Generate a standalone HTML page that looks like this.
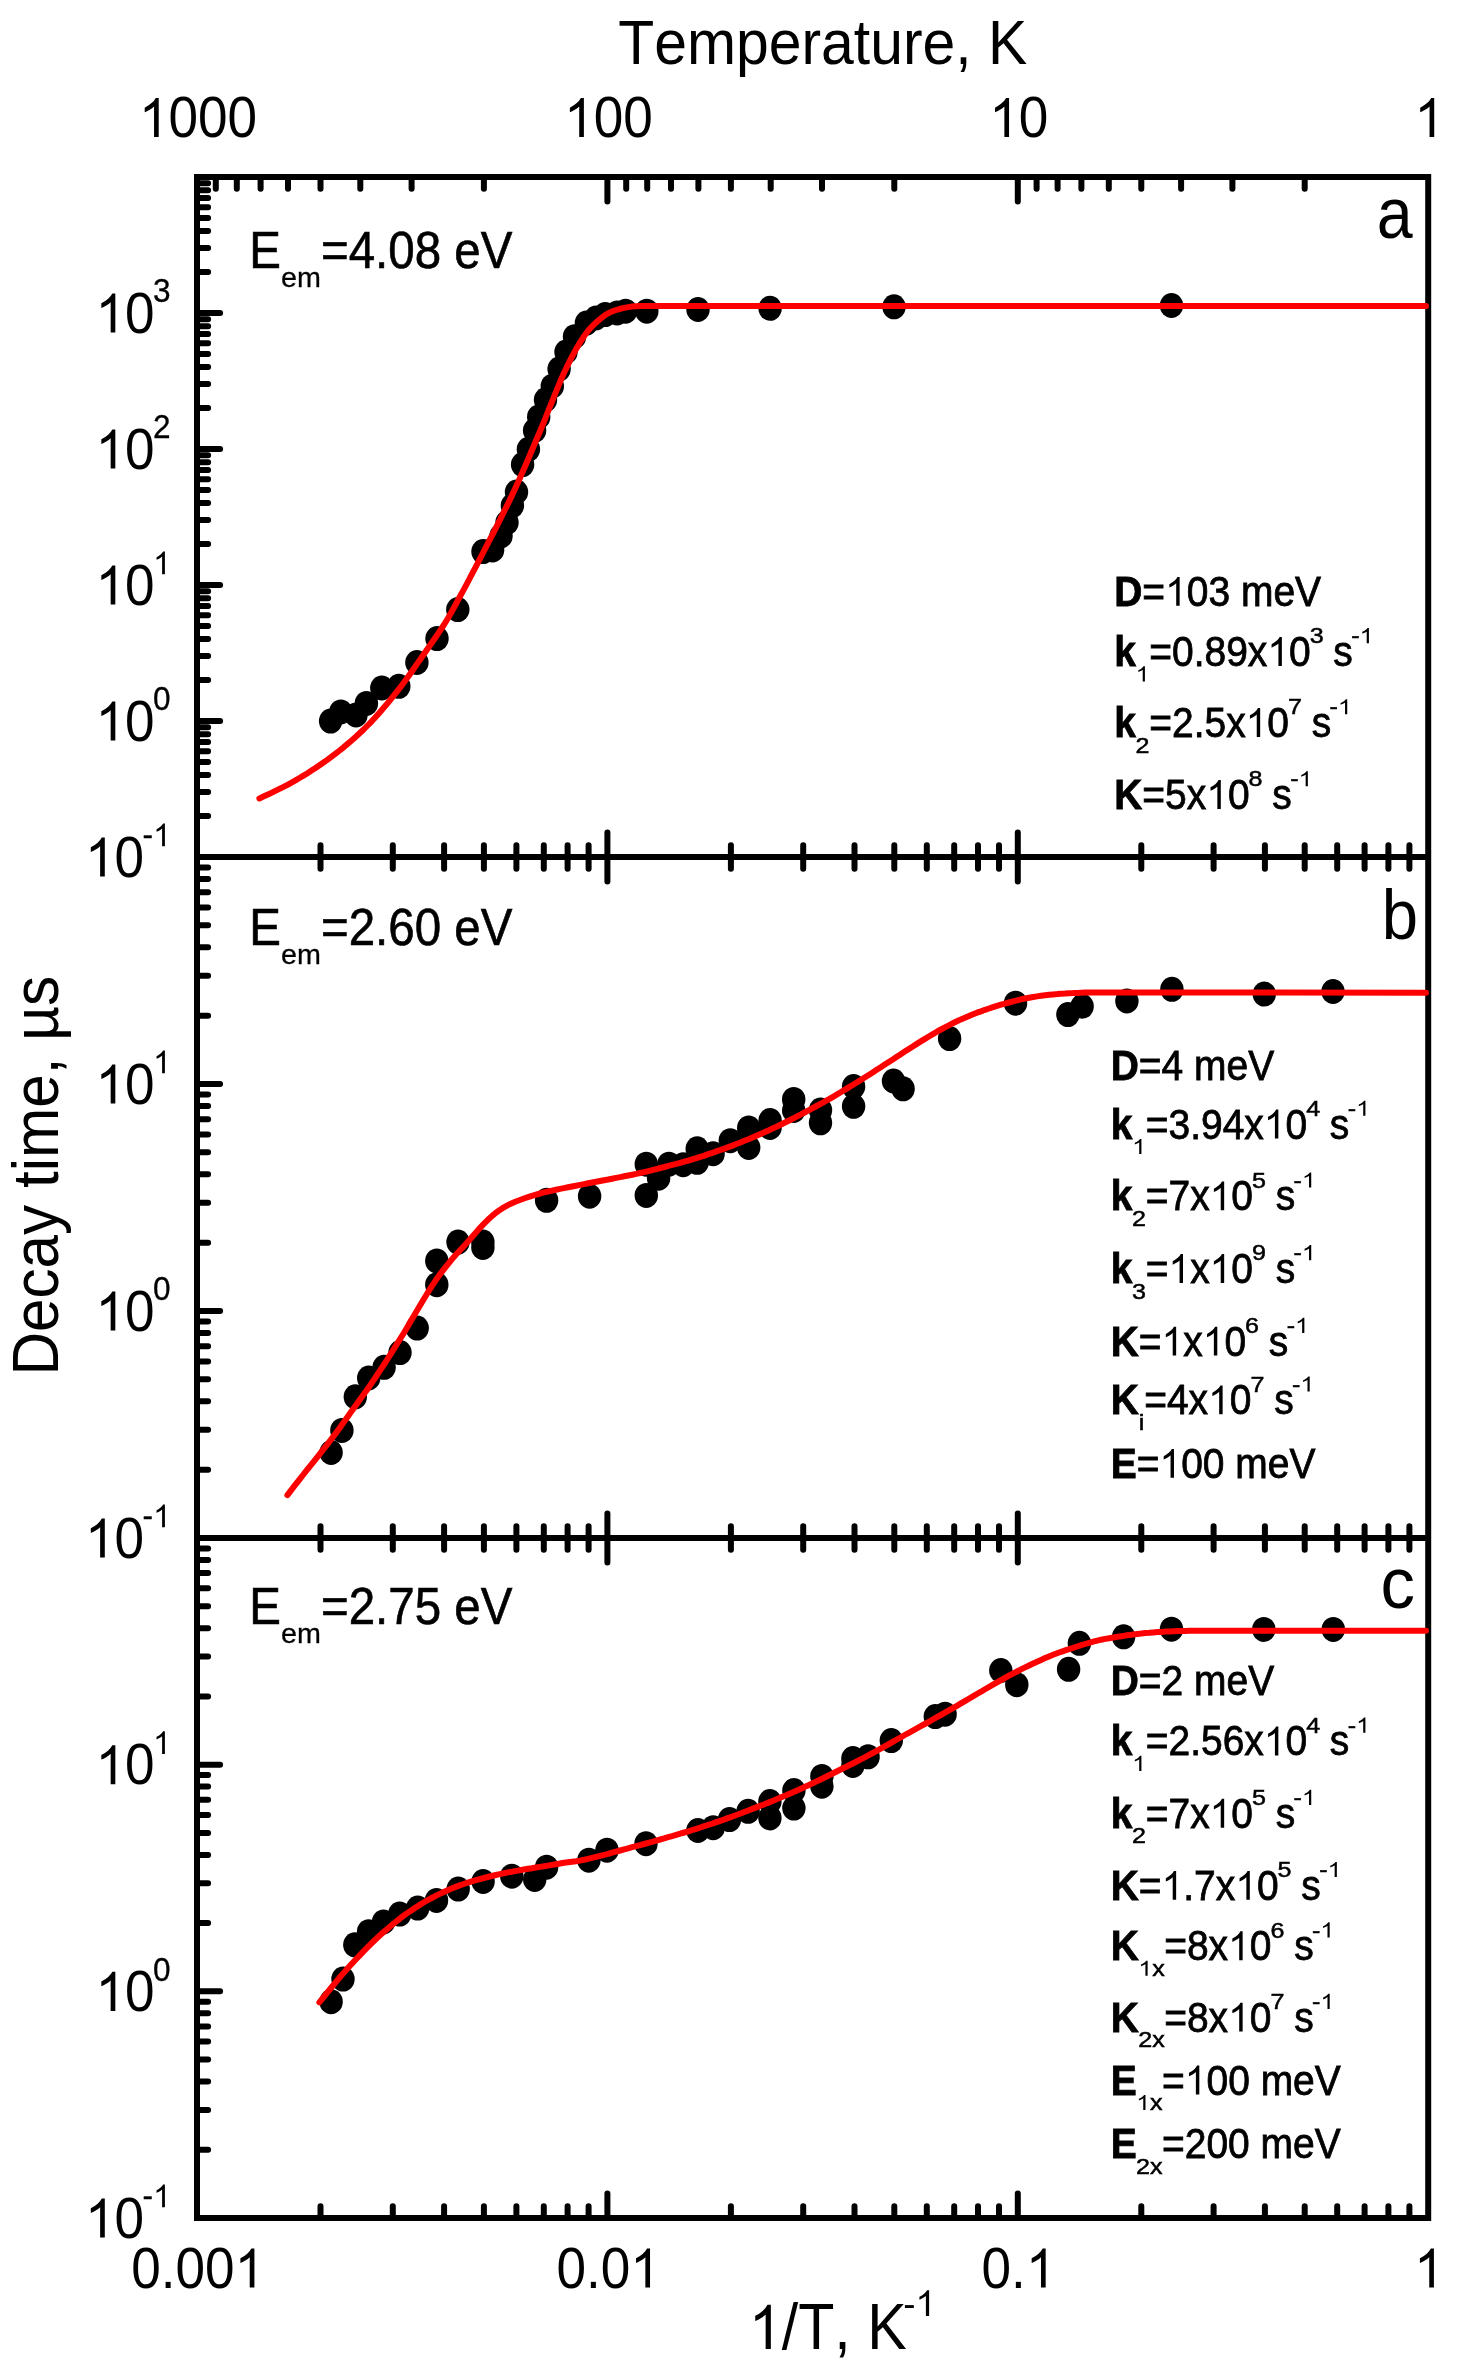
<!DOCTYPE html>
<html lang="en"><head><meta charset="utf-8"><title>Decay time vs temperature</title>
<style>html,body{margin:0;padding:0;background:#fff}svg{display:block}text{font-family:'Liberation Sans', sans-serif;fill:#000;font-kerning:none;font-variant-ligatures:none;white-space:pre}</style></head>
<body>
<svg width="1466" height="2375" viewBox="0 0 1466 2375" style="will-change:transform">
<defs><path id="one" d="M763 0H583V1147Q518 1085 412.5 1023T223 930V1104Q374 1175 487 1276T647 1472H763Z"/></defs>
<rect width="1466" height="2375" fill="#fff"/>
<g fill="#000"><ellipse cx="330.6" cy="721.1" rx="11.7" ry="12.5"/><ellipse cx="340.8" cy="711.9" rx="11.7" ry="12.5"/><ellipse cx="356" cy="715" rx="11.7" ry="12.5"/><ellipse cx="366.4" cy="703.4" rx="11.7" ry="12.5"/><ellipse cx="381.8" cy="688" rx="11.7" ry="12.5"/><ellipse cx="398.8" cy="686.3" rx="11.7" ry="12.5"/><ellipse cx="416.9" cy="662.5" rx="11.7" ry="12.5"/><ellipse cx="437" cy="638.6" rx="11.7" ry="12.5"/><ellipse cx="457.8" cy="609.6" rx="11.7" ry="12.5"/><ellipse cx="483" cy="551.6" rx="11.7" ry="12.5"/><ellipse cx="492.6" cy="550" rx="11.7" ry="12.5"/><ellipse cx="501" cy="536" rx="11.7" ry="12.5"/><ellipse cx="507" cy="522.6" rx="11.7" ry="12.5"/><ellipse cx="512.4" cy="505.6" rx="11.7" ry="12.5"/><ellipse cx="516.5" cy="492" rx="11.7" ry="12.5"/><ellipse cx="522.6" cy="464.6" rx="11.7" ry="12.5"/><ellipse cx="528.4" cy="449.3" rx="11.7" ry="12.5"/><ellipse cx="534.6" cy="430.5" rx="11.7" ry="12.5"/><ellipse cx="538.7" cy="416.9" rx="11.7" ry="12.5"/><ellipse cx="545.5" cy="399.8" rx="11.7" ry="12.5"/><ellipse cx="552.3" cy="386.2" rx="11.7" ry="12.5"/><ellipse cx="559.1" cy="369.1" rx="11.7" ry="12.5"/><ellipse cx="566" cy="352" rx="11.7" ry="12.5"/><ellipse cx="574.5" cy="336.7" rx="11.7" ry="12.5"/><ellipse cx="586.4" cy="323.1" rx="11.7" ry="12.5"/><ellipse cx="596" cy="318" rx="11.7" ry="12.5"/><ellipse cx="605.2" cy="314.6" rx="11.7" ry="12.5"/><ellipse cx="617.1" cy="312.9" rx="11.7" ry="12.5"/><ellipse cx="625.6" cy="311.2" rx="11.7" ry="12.5"/><ellipse cx="646.8" cy="311.2" rx="11.7" ry="12.5"/><ellipse cx="698" cy="309.5" rx="11.7" ry="12.5"/><ellipse cx="770.1" cy="308.3" rx="11.7" ry="12.5"/><ellipse cx="894" cy="306.8" rx="11.7" ry="12.5"/><ellipse cx="1171.5" cy="305.5" rx="11.7" ry="12.5"/></g>
<g fill="#000"><ellipse cx="331.1" cy="1452.5" rx="11.7" ry="12.5"/><ellipse cx="341.9" cy="1430.4" rx="11.7" ry="12.5"/><ellipse cx="355.3" cy="1396.8" rx="11.7" ry="12.5"/><ellipse cx="368.7" cy="1378" rx="11.7" ry="12.5"/><ellipse cx="384.1" cy="1367.3" rx="11.7" ry="12.5"/><ellipse cx="400" cy="1352.6" rx="11.7" ry="12.5"/><ellipse cx="417.2" cy="1328.1" rx="11.7" ry="12.5"/><ellipse cx="436.8" cy="1284.7" rx="11.7" ry="12.5"/><ellipse cx="436.8" cy="1260.9" rx="11.7" ry="12.5"/><ellipse cx="458" cy="1242.1" rx="11.7" ry="12.5"/><ellipse cx="482.9" cy="1242.1" rx="11.7" ry="12.5"/><ellipse cx="482.9" cy="1247.5" rx="11.7" ry="12.5"/><ellipse cx="546.6" cy="1200.3" rx="11.7" ry="12.5"/><ellipse cx="589.6" cy="1196.2" rx="11.7" ry="12.5"/><ellipse cx="646.3" cy="1195.4" rx="11.7" ry="12.5"/><ellipse cx="646.3" cy="1164.2" rx="11.7" ry="12.5"/><ellipse cx="658.6" cy="1178.2" rx="11.7" ry="12.5"/><ellipse cx="668.9" cy="1164.2" rx="11.7" ry="12.5"/><ellipse cx="683.2" cy="1164.7" rx="11.7" ry="12.5"/><ellipse cx="697.2" cy="1148.8" rx="11.7" ry="12.5"/><ellipse cx="697.2" cy="1162.3" rx="11.7" ry="12.5"/><ellipse cx="713.1" cy="1153.7" rx="11.7" ry="12.5"/><ellipse cx="730.3" cy="1140.7" rx="11.7" ry="12.5"/><ellipse cx="748.7" cy="1127.9" rx="11.7" ry="12.5"/><ellipse cx="748.7" cy="1147.5" rx="11.7" ry="12.5"/><ellipse cx="770.1" cy="1120.5" rx="11.7" ry="12.5"/><ellipse cx="770.1" cy="1127.4" rx="11.7" ry="12.5"/><ellipse cx="793.7" cy="1099.4" rx="11.7" ry="12.5"/><ellipse cx="793.7" cy="1110.5" rx="11.7" ry="12.5"/><ellipse cx="820.5" cy="1110" rx="11.7" ry="12.5"/><ellipse cx="820.5" cy="1122.8" rx="11.7" ry="12.5"/><ellipse cx="853.6" cy="1086.6" rx="11.7" ry="12.5"/><ellipse cx="853.6" cy="1106.3" rx="11.7" ry="12.5"/><ellipse cx="893.5" cy="1081" rx="11.7" ry="12.5"/><ellipse cx="903.1" cy="1088.8" rx="11.7" ry="12.5"/><ellipse cx="949.6" cy="1038.6" rx="11.7" ry="12.5"/><ellipse cx="1015.5" cy="1003.2" rx="11.7" ry="12.5"/><ellipse cx="1067.9" cy="1014.6" rx="11.7" ry="12.5"/><ellipse cx="1082.1" cy="1006.3" rx="11.7" ry="12.5"/><ellipse cx="1126.9" cy="1001" rx="11.7" ry="12.5"/><ellipse cx="1171.9" cy="989.3" rx="11.7" ry="12.5"/><ellipse cx="1264.3" cy="994.1" rx="11.7" ry="12.5"/><ellipse cx="1333" cy="991.5" rx="11.7" ry="12.5"/></g>
<g fill="#000"><ellipse cx="331.1" cy="2001.7" rx="11.7" ry="12.5"/><ellipse cx="343" cy="1979.1" rx="11.7" ry="12.5"/><ellipse cx="354.8" cy="1944.8" rx="11.7" ry="12.5"/><ellipse cx="368.6" cy="1931.7" rx="11.7" ry="12.5"/><ellipse cx="383.5" cy="1921.9" rx="11.7" ry="12.5"/><ellipse cx="399.7" cy="1914.1" rx="11.7" ry="12.5"/><ellipse cx="417.7" cy="1908.1" rx="11.7" ry="12.5"/><ellipse cx="436.5" cy="1900.4" rx="11.7" ry="12.5"/><ellipse cx="458.2" cy="1889.1" rx="11.7" ry="12.5"/><ellipse cx="483.1" cy="1881.5" rx="11.7" ry="12.5"/><ellipse cx="511.8" cy="1876.2" rx="11.7" ry="12.5"/><ellipse cx="534.7" cy="1879.5" rx="11.7" ry="12.5"/><ellipse cx="546.6" cy="1867.2" rx="11.7" ry="12.5"/><ellipse cx="588.9" cy="1860.2" rx="11.7" ry="12.5"/><ellipse cx="607" cy="1850.2" rx="11.7" ry="12.5"/><ellipse cx="646" cy="1843.7" rx="11.7" ry="12.5"/><ellipse cx="697.9" cy="1830.5" rx="11.7" ry="12.5"/><ellipse cx="713.2" cy="1827.7" rx="11.7" ry="12.5"/><ellipse cx="729.5" cy="1819.6" rx="11.7" ry="12.5"/><ellipse cx="748.1" cy="1811.3" rx="11.7" ry="12.5"/><ellipse cx="769.9" cy="1801.5" rx="11.7" ry="12.5"/><ellipse cx="769.9" cy="1817.9" rx="11.7" ry="12.5"/><ellipse cx="793.9" cy="1790.6" rx="11.7" ry="12.5"/><ellipse cx="793.9" cy="1808.1" rx="11.7" ry="12.5"/><ellipse cx="821.9" cy="1776.4" rx="11.7" ry="12.5"/><ellipse cx="821.9" cy="1786.2" rx="11.7" ry="12.5"/><ellipse cx="852.9" cy="1758.5" rx="11.7" ry="12.5"/><ellipse cx="852.9" cy="1765.5" rx="11.7" ry="12.5"/><ellipse cx="868.1" cy="1756.8" rx="11.7" ry="12.5"/><ellipse cx="891.3" cy="1740.6" rx="11.7" ry="12.5"/><ellipse cx="935.3" cy="1716.6" rx="11.7" ry="12.5"/><ellipse cx="945.1" cy="1714.2" rx="11.7" ry="12.5"/><ellipse cx="1000.8" cy="1670.5" rx="11.7" ry="12.5"/><ellipse cx="1016.8" cy="1684.7" rx="11.7" ry="12.5"/><ellipse cx="1068.6" cy="1669.3" rx="11.7" ry="12.5"/><ellipse cx="1079.4" cy="1643.3" rx="11.7" ry="12.5"/><ellipse cx="1123.6" cy="1636.8" rx="11.7" ry="12.5"/><ellipse cx="1171.5" cy="1629.2" rx="11.7" ry="12.5"/><ellipse cx="1263.8" cy="1629.4" rx="11.7" ry="12.5"/><ellipse cx="1333.3" cy="1629.4" rx="11.7" ry="12.5"/></g>
<g fill="none" stroke="#000" stroke-width="6">
<rect x="197" y="177" width="1231.2" height="2041"/>
<path d="M197 857H1428.2M197 1538H1428.2"/>
</g>
<path fill="none" stroke="#000" stroke-width="6" stroke-linecap="round" d="M1304.7 177V188.8M320.5 845.2V868.8M320.5 1526.2V1549.8M320.5 2218V2206.2M1232.4 177V188.8M392.8 845.2V868.8M392.8 1526.2V1549.8M392.8 2218V2206.2M1181.1 177V188.8M444.1 845.2V868.8M444.1 1526.2V1549.8M444.1 2218V2206.2M1141.3 177V188.8M483.9 845.2V868.8M483.9 1526.2V1549.8M483.9 2218V2206.2M1108.8 177V188.8M516.4 845.2V868.8M516.4 1526.2V1549.8M516.4 2218V2206.2M1081.4 177V188.8M543.8 845.2V868.8M543.8 1526.2V1549.8M543.8 2218V2206.2M1057.6 177V188.8M567.6 845.2V868.8M567.6 1526.2V1549.8M567.6 2218V2206.2M1036.6 177V188.8M588.6 845.2V868.8M588.6 1526.2V1549.8M588.6 2218V2206.2M1017.8 177V201.4M607.4 832.6V881.4M607.4 1513.6V1562.4M607.4 2218V2193.6M894.3 177V188.8M730.9 845.2V868.8M730.9 1526.2V1549.8M730.9 2218V2206.2M822 177V188.8M803.2 845.2V868.8M803.2 1526.2V1549.8M803.2 2218V2206.2M770.7 177V188.8M854.5 845.2V868.8M854.5 1526.2V1549.8M854.5 2218V2206.2M730.9 177V188.8M894.3 845.2V868.8M894.3 1526.2V1549.8M894.3 2218V2206.2M698.4 177V188.8M926.8 845.2V868.8M926.8 1526.2V1549.8M926.8 2218V2206.2M671 177V188.8M954.2 845.2V868.8M954.2 1526.2V1549.8M954.2 2218V2206.2M647.2 177V188.8M978 845.2V868.8M978 1526.2V1549.8M978 2218V2206.2M626.2 177V188.8M999 845.2V868.8M999 1526.2V1549.8M999 2218V2206.2M607.4 177V201.4M1017.8 832.6V881.4M1017.8 1513.6V1562.4M1017.8 2218V2193.6M483.9 177V188.8M1141.3 845.2V868.8M1141.3 1526.2V1549.8M1141.3 2218V2206.2M411.6 177V188.8M1213.6 845.2V868.8M1213.6 1526.2V1549.8M1213.6 2218V2206.2M360.3 177V188.8M1264.9 845.2V868.8M1264.9 1526.2V1549.8M1264.9 2218V2206.2M320.5 177V188.8M1304.7 845.2V868.8M1304.7 1526.2V1549.8M1304.7 2218V2206.2M288 177V188.8M1337.2 845.2V868.8M1337.2 1526.2V1549.8M1337.2 2218V2206.2M260.6 177V188.8M1364.6 845.2V868.8M1364.6 1526.2V1549.8M1364.6 2218V2206.2M236.8 177V188.8M1388.4 845.2V868.8M1388.4 1526.2V1549.8M1388.4 2218V2206.2M215.8 177V188.8M1409.4 845.2V868.8M1409.4 1526.2V1549.8M1409.4 2218V2206.2M197 313H220.1M197 272.1H208.1M197 248.1H208.1M197 231.1H208.1M197 217.9H208.1M197 207.2H208.1M197 198.1H208.1M197 190.2H208.1M197 183.2H208.1M197 449H220.1M197 408.1H208.1M197 384.1H208.1M197 367.1H208.1M197 353.9H208.1M197 343.2H208.1M197 334.1H208.1M197 326.2H208.1M197 319.2H208.1M197 585H220.1M197 544.1H208.1M197 520.1H208.1M197 503.1H208.1M197 489.9H208.1M197 479.2H208.1M197 470.1H208.1M197 462.2H208.1M197 455.2H208.1M197 721H220.1M197 680.1H208.1M197 656.1H208.1M197 639.1H208.1M197 625.9H208.1M197 615.2H208.1M197 606.1H208.1M197 598.2H208.1M197 591.2H208.1M197 816.1H208.1M197 792.1H208.1M197 775.1H208.1M197 761.9H208.1M197 751.2H208.1M197 742.1H208.1M197 734.2H208.1M197 727.2H208.1M197 1084H220.1M197 1015.7H208.1M197 975.7H208.1M197 947.3H208.1M197 925.3H208.1M197 907.4H208.1M197 892.2H208.1M197 879H208.1M197 867.4H208.1M197 1311H220.1M197 1242.7H208.1M197 1202.7H208.1M197 1174.3H208.1M197 1152.3H208.1M197 1134.4H208.1M197 1119.2H208.1M197 1106H208.1M197 1094.4H208.1M197 1469.7H208.1M197 1429.7H208.1M197 1401.3H208.1M197 1379.3H208.1M197 1361.4H208.1M197 1346.2H208.1M197 1333H208.1M197 1321.4H208.1M197 1764.7H220.1M197 1696.4H208.1M197 1656.5H208.1M197 1628.2H208.1M197 1606.2H208.1M197 1588.3H208.1M197 1573.1H208.1M197 1560H208.1M197 1548.4H208.1M197 1991.3H220.1M197 1923.1H208.1M197 1883.2H208.1M197 1854.9H208.1M197 1832.9H208.1M197 1815H208.1M197 1799.8H208.1M197 1786.6H208.1M197 1775H208.1M197 2149.8H208.1M197 2109.9H208.1M197 2081.5H208.1M197 2059.6H208.1M197 2041.6H208.1M197 2026.4H208.1M197 2013.3H208.1M197 2001.7H208.1"/>
<g fill="none" stroke="#f00" stroke-width="6" stroke-linejoin="round" stroke-linecap="round">
<path d="M259.4 798.4L263.4 796.6L267.4 794.8L271.4 792.9L275.4 790.9L279.4 788.9L283.5 786.9L287.5 784.8L291.5 782.6L295.5 780.3L299.5 778L303.5 775.6L307.5 773.2L311.5 770.6L315.5 768L319.5 765.2L323.5 762.5L327.6 759.6L331.6 756.6L335.6 753.6L339.6 750.5L343.6 747.3L347.6 743.9L351.6 740.5L355.6 737L359.6 733.3L363.6 729.5L367.6 725.5L371.7 721.3L375.7 716.9L379.7 712.4L383.7 707.8L387.7 703.1L391.7 698.2L395.7 693.2L399.7 688.1L403.7 682.8L407.7 677.3L411.7 671.7L415.7 665.9L419.8 660.1L423.8 654.2L427.8 648.5L431.8 642.8L435.8 637L439.8 631.1L443.8 625L447.8 618.5L451.8 611.5L455.8 604.2L459.8 596.8L463.9 589.4L467.9 581.9L471.9 574.2L475.9 566.6L479.9 558.9L483.9 551.2L487.9 543.4L491.9 535.6L495.9 527.8L499.9 519.8L503.9 511.8L508 503.7L512 495.4L516 486.7L520 477.9L524 468.8L528 459.5L532 450L536 440.6L540 431.3L544 421.7L548 411.5L552.1 401.4L556.1 391.5L560.1 381.8L564.1 372.7L568.1 364.3L572.1 356.4L576.1 349.1L580.1 342.4L584.1 336.1L588.1 330.8L592.1 326.3L596.2 322.4L600.2 319L604.2 315.8L608.2 313.3L612.2 311.4L616.2 310L620.2 308.8L624.2 307.9L628.2 307.1L632.2 306.5L636.2 306.3L640.2 306.1L644.3 305.9L648.3 305.9L1426 305.9"/>
<path d="M287.4 1495.1L291.4 1489.9L295.4 1484.7L299.4 1479.6L303.4 1474.5L307.4 1469.4L311.5 1464.4L315.5 1459.4L319.5 1454.3L323.5 1449.2L327.5 1444.1L331.5 1438.9L335.5 1433.6L339.5 1428.2L343.5 1422.6L347.5 1417L351.5 1411.3L355.6 1405.7L359.6 1400.1L363.6 1394.5L367.6 1388.9L371.6 1383.1L375.6 1377.2L379.6 1371.2L383.6 1365.1L387.6 1358.9L391.6 1352.6L395.6 1346.2L399.7 1339.7L403.7 1333.2L407.7 1326.4L411.7 1319.5L415.7 1312.7L419.7 1306L423.7 1299.3L427.7 1292.7L431.7 1286.3L435.7 1280.3L439.7 1274.7L443.8 1269.4L447.8 1264.3L451.8 1259.4L455.8 1254.8L459.8 1250.5L463.8 1246.2L467.8 1241.8L471.8 1237.3L475.8 1232.6L479.8 1228.1L483.8 1223.9L487.9 1219.8L491.9 1216.1L495.9 1212.8L499.9 1209.9L503.9 1207.3L507.9 1205.1L511.9 1203.2L515.9 1201.5L519.9 1200L523.9 1198.5L527.9 1197.2L532 1195.9L536 1194.6L540 1193.5L544 1192.4L548 1191.5L552 1190.6L556 1189.7L560 1188.9L564 1188.1L568 1187.3L572 1186.5L576.1 1185.7L580.1 1184.9L584.1 1184.1L588.1 1183.3L592.1 1182.5L596.1 1181.8L600.1 1181L604.1 1180.2L608.1 1179.5L612.1 1178.7L616.2 1177.9L620.2 1177.1L624.2 1176.3L628.2 1175.5L632.2 1174.7L636.2 1173.9L640.2 1173L644.2 1172.1L648.2 1171.1L652.2 1170.1L656.2 1169.1L660.3 1168L664.3 1167L668.3 1165.9L672.3 1164.9L676.3 1163.9L680.3 1162.8L684.3 1161.7L688.3 1160.6L692.3 1159.4L696.3 1158.2L700.3 1156.9L704.4 1155.6L708.4 1154.2L712.4 1152.8L716.4 1151.4L720.4 1150L724.4 1148.6L728.4 1147.1L732.4 1145.6L736.4 1144L740.4 1142.5L744.4 1140.8L748.5 1139.2L752.5 1137.5L756.5 1135.7L760.5 1134L764.5 1132.2L768.5 1130.4L772.5 1128.5L776.5 1126.7L780.5 1124.7L784.5 1122.8L788.5 1120.8L792.6 1118.8L796.6 1116.7L800.6 1114.6L804.6 1112.5L808.6 1110.3L812.6 1108.1L816.6 1106L820.6 1103.8L824.6 1101.6L828.6 1099.4L832.6 1097.1L836.7 1094.7L840.7 1092.3L844.7 1089.9L848.7 1087.4L852.7 1085L856.7 1082.5L860.7 1080L864.7 1077.5L868.7 1075L872.7 1072.4L876.7 1069.8L880.8 1067.2L884.8 1064.6L888.8 1062L892.8 1059.4L896.8 1056.8L900.8 1054.2L904.8 1051.6L908.8 1049L912.8 1046.4L916.8 1043.9L920.8 1041.4L924.9 1038.9L928.9 1036.5L932.9 1034.1L936.9 1031.7L940.9 1029.5L944.9 1027.4L948.9 1025.3L952.9 1023.2L956.9 1021.3L960.9 1019.4L964.9 1017.7L969 1016L973 1014.3L977 1012.7L981 1011.3L985 1009.8L989 1008.5L993 1007.2L997 1005.9L1001 1004.7L1005 1003.6L1009 1002.5L1013.1 1001.4L1017.1 1000.3L1021.1 999.3L1025.1 998.5L1029.1 997.7L1033.1 997L1037.1 996.4L1041.1 995.8L1045.1 995.3L1049.1 994.8L1053.1 994.4L1057.2 994.1L1061.2 993.7L1065.2 993.5L1069.2 993.2L1073.2 993.1L1077.2 992.9L1081.2 992.7L1085.2 992.6L1089.2 992.5L1426 992.7"/>
<path d="M319.4 2002.3L323.4 1997.3L327.4 1992.4L331.4 1987.5L335.4 1982.6L339.4 1977.8L343.5 1973.1L347.5 1968.6L351.5 1964.1L355.5 1959.8L359.5 1955.6L363.5 1951.4L367.5 1947.4L371.5 1943.4L375.5 1939.5L379.5 1935.8L383.6 1932.1L387.6 1928.7L391.6 1925.3L395.6 1922L399.6 1918.8L403.6 1915.7L407.6 1912.9L411.6 1910.2L415.6 1907.5L419.6 1904.9L423.6 1902.5L427.7 1900.2L431.7 1898L435.7 1895.9L439.7 1893.9L443.7 1892L447.7 1890.2L451.7 1888.5L455.7 1886.9L459.7 1885.4L463.7 1884L467.7 1882.7L471.8 1881.4L475.8 1880.2L479.8 1879.1L483.8 1878L487.8 1877L491.8 1876L495.8 1875L499.8 1874.1L503.8 1873.3L507.8 1872.4L511.9 1871.7L515.9 1870.9L519.9 1870.2L523.9 1869.5L527.9 1868.8L531.9 1868.2L535.9 1867.5L539.9 1866.9L543.9 1866.3L547.9 1865.6L551.9 1864.9L556 1864.2L560 1863.5L564 1862.8L568 1862.2L572 1861.7L576 1861.2L580 1860.6L584 1859.8L588 1858.9L592 1857.9L596 1856.9L600.1 1855.8L604.1 1854.8L608.1 1853.8L612.1 1852.7L616.1 1851.6L620.1 1850.5L624.1 1849.4L628.1 1848.3L632.1 1847.2L636.1 1846.1L640.2 1845.1L644.2 1844L648.2 1842.9L652.2 1841.8L656.2 1840.6L660.2 1839.5L664.2 1838.4L668.2 1837.2L672.2 1836.1L676.2 1834.9L680.2 1833.7L684.3 1832.5L688.3 1831.3L692.3 1830L696.3 1828.8L700.3 1827.5L704.3 1826.2L708.3 1824.9L712.3 1823.6L716.3 1822.2L720.3 1820.8L724.4 1819.4L728.4 1817.9L732.4 1816.5L736.4 1815L740.4 1813.5L744.4 1812L748.4 1810.5L752.4 1808.9L756.4 1807.4L760.4 1805.8L764.4 1804.2L768.5 1802.6L772.5 1801L776.5 1799.3L780.5 1797.6L784.5 1795.9L788.5 1794.2L792.5 1792.5L796.5 1790.7L800.5 1788.9L804.5 1787.1L808.5 1785.2L812.6 1783.3L816.6 1781.4L820.6 1779.5L824.6 1777.5L828.6 1775.5L832.6 1773.5L836.6 1771.5L840.6 1769.5L844.6 1767.5L848.6 1765.5L852.7 1763.5L856.7 1761.5L860.7 1759.4L864.7 1757.3L868.7 1755.2L872.7 1753L876.7 1750.8L880.7 1748.6L884.7 1746.4L888.7 1744.1L892.7 1741.8L896.8 1739.5L900.8 1737.3L904.8 1735L908.8 1732.8L912.8 1730.6L916.8 1728.4L920.8 1726.2L924.8 1724L928.8 1721.8L932.8 1719.5L936.9 1717.2L940.9 1715L944.9 1712.7L948.9 1710.4L952.9 1708.1L956.9 1705.8L960.9 1703.4L964.9 1701.1L968.9 1698.7L972.9 1696.4L976.9 1694L981 1691.7L985 1689.3L989 1687L993 1684.7L997 1682.4L1001 1680.1L1005 1677.9L1009 1675.7L1013 1673.6L1017 1671.5L1021 1669.4L1025.1 1667.4L1029.1 1665.5L1033.1 1663.5L1037.1 1661.7L1041.1 1659.9L1045.1 1658.1L1049.1 1656.4L1053.1 1654.8L1057.1 1653.3L1061.1 1651.8L1065.2 1650.4L1069.2 1649.1L1073.2 1647.8L1077.2 1646.5L1081.2 1645.2L1085.2 1644L1089.2 1642.8L1093.2 1641.7L1097.2 1640.7L1101.2 1639.7L1105.2 1638.9L1109.3 1638.2L1113.3 1637.5L1117.3 1636.8L1121.3 1636.2L1125.3 1635.6L1129.3 1635.1L1133.3 1634.5L1137.3 1634L1141.3 1633.6L1145.3 1633.1L1149.3 1632.8L1153.4 1632.4L1157.4 1632.1L1161.4 1631.9L1165.4 1631.6L1169.4 1631.4L1173.4 1631.2L1177.4 1631.1L1181.4 1631L1185.4 1630.9L1189.4 1630.8L1193.5 1630.7L1197.5 1630.7L1426 1630.7"/>
</g>
<g transform="translate(618.2 63.6)"><text xml:space="preserve" transform="translate(0 0) scale(0.926 1)" font-size="63.6">Temperature, K</text></g>
<g transform="translate(58.2 1375.6) rotate(-90)"><text xml:space="preserve" transform="translate(0 0) scale(0.942 1)" font-size="64">Decay time, µs</text></g>
<g transform="translate(748.8 2349)"><use href="#one" transform="translate(0 0) scale(0.02890 -0.03001)"/><text xml:space="preserve" transform="translate(32.92 0) scale(0.922 1)" font-size="64.2">/T, K</text><text xml:space="preserve" transform="translate(154.39 -33) scale(0.980 1)" font-size="37.49">-</text><use href="#one" transform="translate(166.63 -33) scale(0.01794 -0.01752)"/></g>
<g transform="translate(198 137)"><use href="#one" transform="translate(-59.07 0) scale(0.02593 -0.02655)"/><text xml:space="preserve" transform="translate(-29.54 0) scale(0.935 1)" font-size="56.8">000</text></g>
<g transform="translate(608.4 137)"><use href="#one" transform="translate(-44.3 0) scale(0.02593 -0.02655)"/><text xml:space="preserve" transform="translate(-14.77 0) scale(0.935 1)" font-size="56.8">00</text></g>
<g transform="translate(1018.8 137)"><use href="#one" transform="translate(-29.54 0) scale(0.02593 -0.02655)"/><text xml:space="preserve" transform="translate(0 0) scale(0.935 1)" font-size="56.8">0</text></g>
<g transform="translate(1429.2 137)"><use href="#one" transform="translate(-14.77 0) scale(0.02593 -0.02655)"/></g>
<g transform="translate(197.7 2287.6)"><text xml:space="preserve" transform="translate(-66.45 0) scale(0.935 1)" font-size="56.8">0.00</text><use href="#one" transform="translate(36.91 0) scale(0.02593 -0.02655)"/></g>
<g transform="translate(608.1 2287.6)"><text xml:space="preserve" transform="translate(-51.68 0) scale(0.935 1)" font-size="56.8">0.0</text><use href="#one" transform="translate(22.15 0) scale(0.02593 -0.02655)"/></g>
<g transform="translate(1018.5 2287.6)"><text xml:space="preserve" transform="translate(-36.91 0) scale(0.935 1)" font-size="56.8">0.</text><use href="#one" transform="translate(7.38 0) scale(0.02593 -0.02655)"/></g>
<g transform="translate(1428.9 2287.6)"><use href="#one" transform="translate(-14.77 0) scale(0.02593 -0.02655)"/></g>
<g transform="translate(172.2 332.6)"><use href="#one" transform="translate(-76.66 0) scale(0.02593 -0.02655)"/><text xml:space="preserve" transform="translate(-47.12 0) scale(0.935 1)" font-size="56.8">0</text><text xml:space="preserve" transform="translate(-19.09 -30.27) scale(0.950 1)" font-size="33.28" stroke="#000" stroke-width="0.3">3</text></g>
<g transform="translate(172.2 468.6)"><use href="#one" transform="translate(-76.66 0) scale(0.02593 -0.02655)"/><text xml:space="preserve" transform="translate(-47.12 0) scale(0.935 1)" font-size="56.8">0</text><text xml:space="preserve" transform="translate(-19.09 -30.27) scale(0.950 1)" font-size="33.28" stroke="#000" stroke-width="0.3">2</text></g>
<g transform="translate(172.2 604.6)"><use href="#one" transform="translate(-76.66 0) scale(0.02593 -0.02655)"/><text xml:space="preserve" transform="translate(-47.12 0) scale(0.935 1)" font-size="56.8">0</text><use href="#one" transform="translate(-19.09 -30.27) scale(0.01544 -0.01556)" stroke="#000" stroke-width="0.3" vector-effect="non-scaling-stroke"/></g>
<g transform="translate(172.2 740.6)"><use href="#one" transform="translate(-76.66 0) scale(0.02593 -0.02655)"/><text xml:space="preserve" transform="translate(-47.12 0) scale(0.935 1)" font-size="56.8">0</text><text xml:space="preserve" transform="translate(-19.09 -30.27) scale(0.950 1)" font-size="33.28" stroke="#000" stroke-width="0.3">0</text></g>
<g transform="translate(172.2 876.6)"><use href="#one" transform="translate(-87.19 0) scale(0.02593 -0.02655)"/><text xml:space="preserve" transform="translate(-57.65 0) scale(0.935 1)" font-size="56.8">0</text><text xml:space="preserve" transform="translate(-29.62 -30.27) scale(0.950 1)" font-size="33.28" stroke="#000" stroke-width="0.3">-</text><use href="#one" transform="translate(-19.09 -30.27) scale(0.01544 -0.01556)" stroke="#000" stroke-width="0.3" vector-effect="non-scaling-stroke"/></g>
<g transform="translate(172.2 1103.6)"><use href="#one" transform="translate(-76.66 0) scale(0.02593 -0.02655)"/><text xml:space="preserve" transform="translate(-47.12 0) scale(0.935 1)" font-size="56.8">0</text><use href="#one" transform="translate(-19.09 -30.27) scale(0.01544 -0.01556)" stroke="#000" stroke-width="0.3" vector-effect="non-scaling-stroke"/></g>
<g transform="translate(172.2 1330.6)"><use href="#one" transform="translate(-76.66 0) scale(0.02593 -0.02655)"/><text xml:space="preserve" transform="translate(-47.12 0) scale(0.935 1)" font-size="56.8">0</text><text xml:space="preserve" transform="translate(-19.09 -30.27) scale(0.950 1)" font-size="33.28" stroke="#000" stroke-width="0.3">0</text></g>
<g transform="translate(172.2 1557.6)"><use href="#one" transform="translate(-87.19 0) scale(0.02593 -0.02655)"/><text xml:space="preserve" transform="translate(-57.65 0) scale(0.935 1)" font-size="56.8">0</text><text xml:space="preserve" transform="translate(-29.62 -30.27) scale(0.950 1)" font-size="33.28" stroke="#000" stroke-width="0.3">-</text><use href="#one" transform="translate(-19.09 -30.27) scale(0.01544 -0.01556)" stroke="#000" stroke-width="0.3" vector-effect="non-scaling-stroke"/></g>
<g transform="translate(172.2 1784.3)"><use href="#one" transform="translate(-76.66 0) scale(0.02593 -0.02655)"/><text xml:space="preserve" transform="translate(-47.12 0) scale(0.935 1)" font-size="56.8">0</text><use href="#one" transform="translate(-19.09 -30.27) scale(0.01544 -0.01556)" stroke="#000" stroke-width="0.3" vector-effect="non-scaling-stroke"/></g>
<g transform="translate(172.2 2010.9)"><use href="#one" transform="translate(-76.66 0) scale(0.02593 -0.02655)"/><text xml:space="preserve" transform="translate(-47.12 0) scale(0.935 1)" font-size="56.8">0</text><text xml:space="preserve" transform="translate(-19.09 -30.27) scale(0.950 1)" font-size="33.28" stroke="#000" stroke-width="0.3">0</text></g>
<g transform="translate(172.2 2237.6)"><use href="#one" transform="translate(-87.19 0) scale(0.02593 -0.02655)"/><text xml:space="preserve" transform="translate(-57.65 0) scale(0.935 1)" font-size="56.8">0</text><text xml:space="preserve" transform="translate(-29.62 -30.27) scale(0.950 1)" font-size="33.28" stroke="#000" stroke-width="0.3">-</text><use href="#one" transform="translate(-19.09 -30.27) scale(0.01544 -0.01556)" stroke="#000" stroke-width="0.3" vector-effect="non-scaling-stroke"/></g>
<g transform="translate(1376.7 238.3)"><text xml:space="preserve" transform="translate(0 0) scale(0.890 1)" font-size="72.5">a</text></g>
<g transform="translate(1381.7 939.3)"><text xml:space="preserve" transform="translate(0 0) scale(0.920 1)" font-size="71">b</text></g>
<g transform="translate(1380.6 1607.5)"><text xml:space="preserve" transform="translate(0 0) scale(0.950 1)" font-size="72.5">c</text></g>
<g transform="translate(249.3 267.7)"><text xml:space="preserve" transform="translate(0 0) scale(0.928 1)" font-size="51.2" stroke="#000" stroke-width="0.6">E</text><text xml:space="preserve" transform="translate(31.69 19.61) scale(1.020 1)" font-size="28.16" stroke="#000" stroke-width="0.3">em</text><text xml:space="preserve" transform="translate(71.59 0) scale(0.928 1)" font-size="51.2" stroke="#000" stroke-width="0.6">=4.08 eV</text></g>
<g transform="translate(249.3 944.8)"><text xml:space="preserve" transform="translate(0 0) scale(0.928 1)" font-size="51.2" stroke="#000" stroke-width="0.6">E</text><text xml:space="preserve" transform="translate(31.69 19.61) scale(1.020 1)" font-size="28.16" stroke="#000" stroke-width="0.3">em</text><text xml:space="preserve" transform="translate(71.59 0) scale(0.928 1)" font-size="51.2" stroke="#000" stroke-width="0.6">=2.60 eV</text></g>
<g transform="translate(249.3 1623.7)"><text xml:space="preserve" transform="translate(0 0) scale(0.928 1)" font-size="51.2" stroke="#000" stroke-width="0.6">E</text><text xml:space="preserve" transform="translate(31.69 19.61) scale(1.020 1)" font-size="28.16" stroke="#000" stroke-width="0.3">em</text><text xml:space="preserve" transform="translate(71.59 0) scale(0.928 1)" font-size="51.2" stroke="#000" stroke-width="0.6">=2.75 eV</text></g>
<g transform="translate(1114.2 605.8)"><text xml:space="preserve" transform="translate(0 0) scale(0.928 1)" font-size="42" font-weight="bold" stroke="#000" stroke-width="0.8">D</text><text xml:space="preserve" transform="translate(28.15 0) scale(0.928 1)" font-size="42" stroke="#000" stroke-width="0.8">=</text><use href="#one" transform="translate(50.91 0) scale(0.01903 -0.01963)" stroke="#000" stroke-width="0.8" vector-effect="non-scaling-stroke"/><text xml:space="preserve" transform="translate(72.59 0) scale(0.928 1)" font-size="42" stroke="#000" stroke-width="0.8">03 meV</text></g>
<g transform="translate(1114.2 665.9)"><text xml:space="preserve" transform="translate(0 0) scale(0.928 1)" font-size="42" font-weight="bold" stroke="#000" stroke-width="0.8">k</text><use href="#one" transform="translate(21.37 15.62) scale(0.01225 -0.01029)" stroke="#000" stroke-width="0.5" vector-effect="non-scaling-stroke"/><text xml:space="preserve" transform="translate(35.02 0) scale(0.928 1)" font-size="42" stroke="#000" stroke-width="0.8">=0.89x</text><use href="#one" transform="translate(153.13 0) scale(0.01903 -0.01963)" stroke="#000" stroke-width="0.8" vector-effect="non-scaling-stroke"/><text xml:space="preserve" transform="translate(174.8 0) scale(0.928 1)" font-size="42" stroke="#000" stroke-width="0.8">0</text><text xml:space="preserve" transform="translate(195.44 -22.68) scale(1.140 1)" font-size="22.01" stroke="#000" stroke-width="0.5">3</text><text xml:space="preserve" transform="translate(208.35 0) scale(0.928 1)" font-size="42" stroke="#000" stroke-width="0.8"> s</text><text xml:space="preserve" transform="translate(237.01 -22.68) scale(1.140 1)" font-size="22.01" stroke="#000" stroke-width="0.5">-</text><use href="#one" transform="translate(245.36 -22.68) scale(0.01225 -0.01029)" stroke="#000" stroke-width="0.5" vector-effect="non-scaling-stroke"/></g>
<g transform="translate(1114.2 737)"><text xml:space="preserve" transform="translate(0 0) scale(0.928 1)" font-size="42" font-weight="bold" stroke="#000" stroke-width="0.8">k</text><text xml:space="preserve" transform="translate(21.37 15.62) scale(1.140 1)" font-size="22.01" stroke="#000" stroke-width="0.5">2</text><text xml:space="preserve" transform="translate(35.02 0) scale(0.928 1)" font-size="42" stroke="#000" stroke-width="0.8">=2.5x</text><use href="#one" transform="translate(131.45 0) scale(0.01903 -0.01963)" stroke="#000" stroke-width="0.8" vector-effect="non-scaling-stroke"/><text xml:space="preserve" transform="translate(153.13 0) scale(0.928 1)" font-size="42" stroke="#000" stroke-width="0.8">0</text><text xml:space="preserve" transform="translate(173.76 -22.68) scale(1.140 1)" font-size="22.01" stroke="#000" stroke-width="0.5">7</text><text xml:space="preserve" transform="translate(186.68 0) scale(0.928 1)" font-size="42" stroke="#000" stroke-width="0.8"> s</text><text xml:space="preserve" transform="translate(215.33 -22.68) scale(1.140 1)" font-size="22.01" stroke="#000" stroke-width="0.5">-</text><use href="#one" transform="translate(223.68 -22.68) scale(0.01225 -0.01029)" stroke="#000" stroke-width="0.5" vector-effect="non-scaling-stroke"/></g>
<g transform="translate(1114.2 809)"><text xml:space="preserve" transform="translate(0 0) scale(0.928 1)" font-size="42" font-weight="bold" stroke="#000" stroke-width="0.8">K</text><text xml:space="preserve" transform="translate(28.15 0) scale(0.928 1)" font-size="42" stroke="#000" stroke-width="0.8">=5x</text><use href="#one" transform="translate(92.07 0) scale(0.01903 -0.01963)" stroke="#000" stroke-width="0.8" vector-effect="non-scaling-stroke"/><text xml:space="preserve" transform="translate(113.75 0) scale(0.928 1)" font-size="42" stroke="#000" stroke-width="0.8">0</text><text xml:space="preserve" transform="translate(134.39 -22.68) scale(1.140 1)" font-size="22.01" stroke="#000" stroke-width="0.5">8</text><text xml:space="preserve" transform="translate(147.3 0) scale(0.928 1)" font-size="42" stroke="#000" stroke-width="0.8"> s</text><text xml:space="preserve" transform="translate(175.95 -22.68) scale(1.140 1)" font-size="22.01" stroke="#000" stroke-width="0.5">-</text><use href="#one" transform="translate(184.31 -22.68) scale(0.01225 -0.01029)" stroke="#000" stroke-width="0.5" vector-effect="non-scaling-stroke"/></g>
<g transform="translate(1110.7 1079.5)"><text xml:space="preserve" transform="translate(0 0) scale(0.928 1)" font-size="42" font-weight="bold" stroke="#000" stroke-width="0.8">D</text><text xml:space="preserve" transform="translate(28.15 0) scale(0.928 1)" font-size="42" stroke="#000" stroke-width="0.8">=4 meV</text></g>
<g transform="translate(1110.7 1138.5)"><text xml:space="preserve" transform="translate(0 0) scale(0.928 1)" font-size="42" font-weight="bold" stroke="#000" stroke-width="0.8">k</text><use href="#one" transform="translate(21.37 15.62) scale(0.01225 -0.01029)" stroke="#000" stroke-width="0.5" vector-effect="non-scaling-stroke"/><text xml:space="preserve" transform="translate(35.02 0) scale(0.928 1)" font-size="42" stroke="#000" stroke-width="0.8">=3.94x</text><use href="#one" transform="translate(153.13 0) scale(0.01903 -0.01963)" stroke="#000" stroke-width="0.8" vector-effect="non-scaling-stroke"/><text xml:space="preserve" transform="translate(174.8 0) scale(0.928 1)" font-size="42" stroke="#000" stroke-width="0.8">0</text><text xml:space="preserve" transform="translate(195.44 -22.68) scale(1.140 1)" font-size="22.01" stroke="#000" stroke-width="0.5">4</text><text xml:space="preserve" transform="translate(208.35 0) scale(0.928 1)" font-size="42" stroke="#000" stroke-width="0.8"> s</text><text xml:space="preserve" transform="translate(237.01 -22.68) scale(1.140 1)" font-size="22.01" stroke="#000" stroke-width="0.5">-</text><use href="#one" transform="translate(245.36 -22.68) scale(0.01225 -0.01029)" stroke="#000" stroke-width="0.5" vector-effect="non-scaling-stroke"/></g>
<g transform="translate(1110.7 1210.3)"><text xml:space="preserve" transform="translate(0 0) scale(0.928 1)" font-size="42" font-weight="bold" stroke="#000" stroke-width="0.8">k</text><text xml:space="preserve" transform="translate(21.37 15.62) scale(1.140 1)" font-size="22.01" stroke="#000" stroke-width="0.5">2</text><text xml:space="preserve" transform="translate(35.02 0) scale(0.928 1)" font-size="42" stroke="#000" stroke-width="0.8">=7x</text><use href="#one" transform="translate(98.94 0) scale(0.01903 -0.01963)" stroke="#000" stroke-width="0.8" vector-effect="non-scaling-stroke"/><text xml:space="preserve" transform="translate(120.62 0) scale(0.928 1)" font-size="42" stroke="#000" stroke-width="0.8">0</text><text xml:space="preserve" transform="translate(141.26 -22.68) scale(1.140 1)" font-size="22.01" stroke="#000" stroke-width="0.5">5</text><text xml:space="preserve" transform="translate(154.17 0) scale(0.928 1)" font-size="42" stroke="#000" stroke-width="0.8"> s</text><text xml:space="preserve" transform="translate(182.82 -22.68) scale(1.140 1)" font-size="22.01" stroke="#000" stroke-width="0.5">-</text><use href="#one" transform="translate(191.18 -22.68) scale(0.01225 -0.01029)" stroke="#000" stroke-width="0.5" vector-effect="non-scaling-stroke"/></g>
<g transform="translate(1110.7 1282.9)"><text xml:space="preserve" transform="translate(0 0) scale(0.928 1)" font-size="42" font-weight="bold" stroke="#000" stroke-width="0.8">k</text><text xml:space="preserve" transform="translate(21.37 15.62) scale(1.140 1)" font-size="22.01" stroke="#000" stroke-width="0.5">3</text><text xml:space="preserve" transform="translate(35.02 0) scale(0.928 1)" font-size="42" stroke="#000" stroke-width="0.8">=</text><use href="#one" transform="translate(57.78 0) scale(0.01903 -0.01963)" stroke="#000" stroke-width="0.8" vector-effect="non-scaling-stroke"/><text xml:space="preserve" transform="translate(79.46 0) scale(0.928 1)" font-size="42" stroke="#000" stroke-width="0.8">x</text><use href="#one" transform="translate(98.94 0) scale(0.01903 -0.01963)" stroke="#000" stroke-width="0.8" vector-effect="non-scaling-stroke"/><text xml:space="preserve" transform="translate(120.62 0) scale(0.928 1)" font-size="42" stroke="#000" stroke-width="0.8">0</text><text xml:space="preserve" transform="translate(141.26 -22.68) scale(1.140 1)" font-size="22.01" stroke="#000" stroke-width="0.5">9</text><text xml:space="preserve" transform="translate(154.17 0) scale(0.928 1)" font-size="42" stroke="#000" stroke-width="0.8"> s</text><text xml:space="preserve" transform="translate(182.82 -22.68) scale(1.140 1)" font-size="22.01" stroke="#000" stroke-width="0.5">-</text><use href="#one" transform="translate(191.18 -22.68) scale(0.01225 -0.01029)" stroke="#000" stroke-width="0.5" vector-effect="non-scaling-stroke"/></g>
<g transform="translate(1110.7 1355.6)"><text xml:space="preserve" transform="translate(0 0) scale(0.928 1)" font-size="42" font-weight="bold" stroke="#000" stroke-width="0.8">K</text><text xml:space="preserve" transform="translate(28.15 0) scale(0.928 1)" font-size="42" stroke="#000" stroke-width="0.8">=</text><use href="#one" transform="translate(50.91 0) scale(0.01903 -0.01963)" stroke="#000" stroke-width="0.8" vector-effect="non-scaling-stroke"/><text xml:space="preserve" transform="translate(72.59 0) scale(0.928 1)" font-size="42" stroke="#000" stroke-width="0.8">x</text><use href="#one" transform="translate(92.07 0) scale(0.01903 -0.01963)" stroke="#000" stroke-width="0.8" vector-effect="non-scaling-stroke"/><text xml:space="preserve" transform="translate(113.75 0) scale(0.928 1)" font-size="42" stroke="#000" stroke-width="0.8">0</text><text xml:space="preserve" transform="translate(134.39 -22.68) scale(1.140 1)" font-size="22.01" stroke="#000" stroke-width="0.5">6</text><text xml:space="preserve" transform="translate(147.3 0) scale(0.928 1)" font-size="42" stroke="#000" stroke-width="0.8"> s</text><text xml:space="preserve" transform="translate(175.95 -22.68) scale(1.140 1)" font-size="22.01" stroke="#000" stroke-width="0.5">-</text><use href="#one" transform="translate(184.31 -22.68) scale(0.01225 -0.01029)" stroke="#000" stroke-width="0.5" vector-effect="non-scaling-stroke"/></g>
<g transform="translate(1110.7 1414.3)"><text xml:space="preserve" transform="translate(0 0) scale(0.928 1)" font-size="42" font-weight="bold" stroke="#000" stroke-width="0.8">K</text><text xml:space="preserve" transform="translate(28.02 15.62) scale(1.140 1)" font-size="22.01" stroke="#000" stroke-width="0.5">i</text><text xml:space="preserve" transform="translate(33.48 0) scale(0.928 1)" font-size="42" stroke="#000" stroke-width="0.8">=4x</text><use href="#one" transform="translate(97.4 0) scale(0.01903 -0.01963)" stroke="#000" stroke-width="0.8" vector-effect="non-scaling-stroke"/><text xml:space="preserve" transform="translate(119.08 0) scale(0.928 1)" font-size="42" stroke="#000" stroke-width="0.8">0</text><text xml:space="preserve" transform="translate(139.72 -22.68) scale(1.140 1)" font-size="22.01" stroke="#000" stroke-width="0.5">7</text><text xml:space="preserve" transform="translate(152.63 0) scale(0.928 1)" font-size="42" stroke="#000" stroke-width="0.8"> s</text><text xml:space="preserve" transform="translate(181.28 -22.68) scale(1.140 1)" font-size="22.01" stroke="#000" stroke-width="0.5">-</text><use href="#one" transform="translate(189.64 -22.68) scale(0.01225 -0.01029)" stroke="#000" stroke-width="0.5" vector-effect="non-scaling-stroke"/></g>
<g transform="translate(1110.7 1477.8)"><text xml:space="preserve" transform="translate(0 0) scale(0.928 1)" font-size="42" font-weight="bold" stroke="#000" stroke-width="0.8">E</text><text xml:space="preserve" transform="translate(26 0) scale(0.928 1)" font-size="42" stroke="#000" stroke-width="0.8">=</text><use href="#one" transform="translate(48.76 0) scale(0.01903 -0.01963)" stroke="#000" stroke-width="0.8" vector-effect="non-scaling-stroke"/><text xml:space="preserve" transform="translate(70.43 0) scale(0.928 1)" font-size="42" stroke="#000" stroke-width="0.8">00 meV</text></g>
<g transform="translate(1110.7 1695.1)"><text xml:space="preserve" transform="translate(0 0) scale(0.928 1)" font-size="42" font-weight="bold" stroke="#000" stroke-width="0.8">D</text><text xml:space="preserve" transform="translate(28.15 0) scale(0.928 1)" font-size="42" stroke="#000" stroke-width="0.8">=2 meV</text></g>
<g transform="translate(1110.7 1755.4)"><text xml:space="preserve" transform="translate(0 0) scale(0.928 1)" font-size="42" font-weight="bold" stroke="#000" stroke-width="0.8">k</text><use href="#one" transform="translate(21.37 15.62) scale(0.01225 -0.01029)" stroke="#000" stroke-width="0.5" vector-effect="non-scaling-stroke"/><text xml:space="preserve" transform="translate(35.02 0) scale(0.928 1)" font-size="42" stroke="#000" stroke-width="0.8">=2.56x</text><use href="#one" transform="translate(153.13 0) scale(0.01903 -0.01963)" stroke="#000" stroke-width="0.8" vector-effect="non-scaling-stroke"/><text xml:space="preserve" transform="translate(174.8 0) scale(0.928 1)" font-size="42" stroke="#000" stroke-width="0.8">0</text><text xml:space="preserve" transform="translate(195.44 -22.68) scale(1.140 1)" font-size="22.01" stroke="#000" stroke-width="0.5">4</text><text xml:space="preserve" transform="translate(208.35 0) scale(0.928 1)" font-size="42" stroke="#000" stroke-width="0.8"> s</text><text xml:space="preserve" transform="translate(237.01 -22.68) scale(1.140 1)" font-size="22.01" stroke="#000" stroke-width="0.5">-</text><use href="#one" transform="translate(245.36 -22.68) scale(0.01225 -0.01029)" stroke="#000" stroke-width="0.5" vector-effect="non-scaling-stroke"/></g>
<g transform="translate(1110.7 1827.7)"><text xml:space="preserve" transform="translate(0 0) scale(0.928 1)" font-size="42" font-weight="bold" stroke="#000" stroke-width="0.8">k</text><text xml:space="preserve" transform="translate(21.37 15.62) scale(1.140 1)" font-size="22.01" stroke="#000" stroke-width="0.5">2</text><text xml:space="preserve" transform="translate(35.02 0) scale(0.928 1)" font-size="42" stroke="#000" stroke-width="0.8">=7x</text><use href="#one" transform="translate(98.94 0) scale(0.01903 -0.01963)" stroke="#000" stroke-width="0.8" vector-effect="non-scaling-stroke"/><text xml:space="preserve" transform="translate(120.62 0) scale(0.928 1)" font-size="42" stroke="#000" stroke-width="0.8">0</text><text xml:space="preserve" transform="translate(141.26 -22.68) scale(1.140 1)" font-size="22.01" stroke="#000" stroke-width="0.5">5</text><text xml:space="preserve" transform="translate(154.17 0) scale(0.928 1)" font-size="42" stroke="#000" stroke-width="0.8"> s</text><text xml:space="preserve" transform="translate(182.82 -22.68) scale(1.140 1)" font-size="22.01" stroke="#000" stroke-width="0.5">-</text><use href="#one" transform="translate(191.18 -22.68) scale(0.01225 -0.01029)" stroke="#000" stroke-width="0.5" vector-effect="non-scaling-stroke"/></g>
<g transform="translate(1110.7 1899.8)"><text xml:space="preserve" transform="translate(0 0) scale(0.928 1)" font-size="42" font-weight="bold" stroke="#000" stroke-width="0.8">K</text><text xml:space="preserve" transform="translate(28.15 0) scale(0.928 1)" font-size="42" stroke="#000" stroke-width="0.8">=</text><use href="#one" transform="translate(50.91 0) scale(0.01903 -0.01963)" stroke="#000" stroke-width="0.8" vector-effect="non-scaling-stroke"/><text xml:space="preserve" transform="translate(72.59 0) scale(0.928 1)" font-size="42" stroke="#000" stroke-width="0.8">.7x</text><use href="#one" transform="translate(124.58 0) scale(0.01903 -0.01963)" stroke="#000" stroke-width="0.8" vector-effect="non-scaling-stroke"/><text xml:space="preserve" transform="translate(146.26 0) scale(0.928 1)" font-size="42" stroke="#000" stroke-width="0.8">0</text><text xml:space="preserve" transform="translate(166.89 -22.68) scale(1.140 1)" font-size="22.01" stroke="#000" stroke-width="0.5">5</text><text xml:space="preserve" transform="translate(179.8 0) scale(0.928 1)" font-size="42" stroke="#000" stroke-width="0.8"> s</text><text xml:space="preserve" transform="translate(208.46 -22.68) scale(1.140 1)" font-size="22.01" stroke="#000" stroke-width="0.5">-</text><use href="#one" transform="translate(216.81 -22.68) scale(0.01225 -0.01029)" stroke="#000" stroke-width="0.5" vector-effect="non-scaling-stroke"/></g>
<g transform="translate(1110.7 1960.2)"><text xml:space="preserve" transform="translate(0 0) scale(0.928 1)" font-size="42" font-weight="bold" stroke="#000" stroke-width="0.8">K</text><use href="#one" transform="translate(27.57 15.62) scale(0.01225 -0.01029)" stroke="#000" stroke-width="0.5" vector-effect="non-scaling-stroke"/><text xml:space="preserve" transform="translate(41.52 15.62) scale(1.140 1)" font-size="22.01" stroke="#000" stroke-width="0.5">x</text><text xml:space="preserve" transform="translate(53.48 0) scale(0.928 1)" font-size="42" stroke="#000" stroke-width="0.8">=8x</text><use href="#one" transform="translate(117.41 0) scale(0.01903 -0.01963)" stroke="#000" stroke-width="0.8" vector-effect="non-scaling-stroke"/><text xml:space="preserve" transform="translate(139.09 0) scale(0.928 1)" font-size="42" stroke="#000" stroke-width="0.8">0</text><text xml:space="preserve" transform="translate(159.72 -22.68) scale(1.140 1)" font-size="22.01" stroke="#000" stroke-width="0.5">6</text><text xml:space="preserve" transform="translate(172.63 0) scale(0.928 1)" font-size="42" stroke="#000" stroke-width="0.8"> s</text><text xml:space="preserve" transform="translate(201.29 -22.68) scale(1.140 1)" font-size="22.01" stroke="#000" stroke-width="0.5">-</text><use href="#one" transform="translate(209.64 -22.68) scale(0.01225 -0.01029)" stroke="#000" stroke-width="0.5" vector-effect="non-scaling-stroke"/></g>
<g transform="translate(1110.7 2031.6)"><text xml:space="preserve" transform="translate(0 0) scale(0.928 1)" font-size="42" font-weight="bold" stroke="#000" stroke-width="0.8">K</text><text xml:space="preserve" transform="translate(27.57 15.62) scale(1.140 1)" font-size="22.01" stroke="#000" stroke-width="0.5">2x</text><text xml:space="preserve" transform="translate(53.48 0) scale(0.928 1)" font-size="42" stroke="#000" stroke-width="0.8">=8x</text><use href="#one" transform="translate(117.41 0) scale(0.01903 -0.01963)" stroke="#000" stroke-width="0.8" vector-effect="non-scaling-stroke"/><text xml:space="preserve" transform="translate(139.09 0) scale(0.928 1)" font-size="42" stroke="#000" stroke-width="0.8">0</text><text xml:space="preserve" transform="translate(159.72 -22.68) scale(1.140 1)" font-size="22.01" stroke="#000" stroke-width="0.5">7</text><text xml:space="preserve" transform="translate(172.63 0) scale(0.928 1)" font-size="42" stroke="#000" stroke-width="0.8"> s</text><text xml:space="preserve" transform="translate(201.29 -22.68) scale(1.140 1)" font-size="22.01" stroke="#000" stroke-width="0.5">-</text><use href="#one" transform="translate(209.64 -22.68) scale(0.01225 -0.01029)" stroke="#000" stroke-width="0.5" vector-effect="non-scaling-stroke"/></g>
<g transform="translate(1110.7 2094.5)"><text xml:space="preserve" transform="translate(0 0) scale(0.928 1)" font-size="42" font-weight="bold" stroke="#000" stroke-width="0.8">E</text><use href="#one" transform="translate(25.42 15.62) scale(0.01225 -0.01029)" stroke="#000" stroke-width="0.5" vector-effect="non-scaling-stroke"/><text xml:space="preserve" transform="translate(39.37 15.62) scale(1.140 1)" font-size="22.01" stroke="#000" stroke-width="0.5">x</text><text xml:space="preserve" transform="translate(51.33 0) scale(0.928 1)" font-size="42" stroke="#000" stroke-width="0.8">=</text><use href="#one" transform="translate(74.09 0) scale(0.01903 -0.01963)" stroke="#000" stroke-width="0.8" vector-effect="non-scaling-stroke"/><text xml:space="preserve" transform="translate(95.77 0) scale(0.928 1)" font-size="42" stroke="#000" stroke-width="0.8">00 meV</text></g>
<g transform="translate(1110.7 2158.1)"><text xml:space="preserve" transform="translate(0 0) scale(0.928 1)" font-size="42" font-weight="bold" stroke="#000" stroke-width="0.8">E</text><text xml:space="preserve" transform="translate(25.42 15.62) scale(1.140 1)" font-size="22.01" stroke="#000" stroke-width="0.5">2x</text><text xml:space="preserve" transform="translate(51.33 0) scale(0.928 1)" font-size="42" stroke="#000" stroke-width="0.8">=200 meV</text></g>
</svg>
</body></html>
